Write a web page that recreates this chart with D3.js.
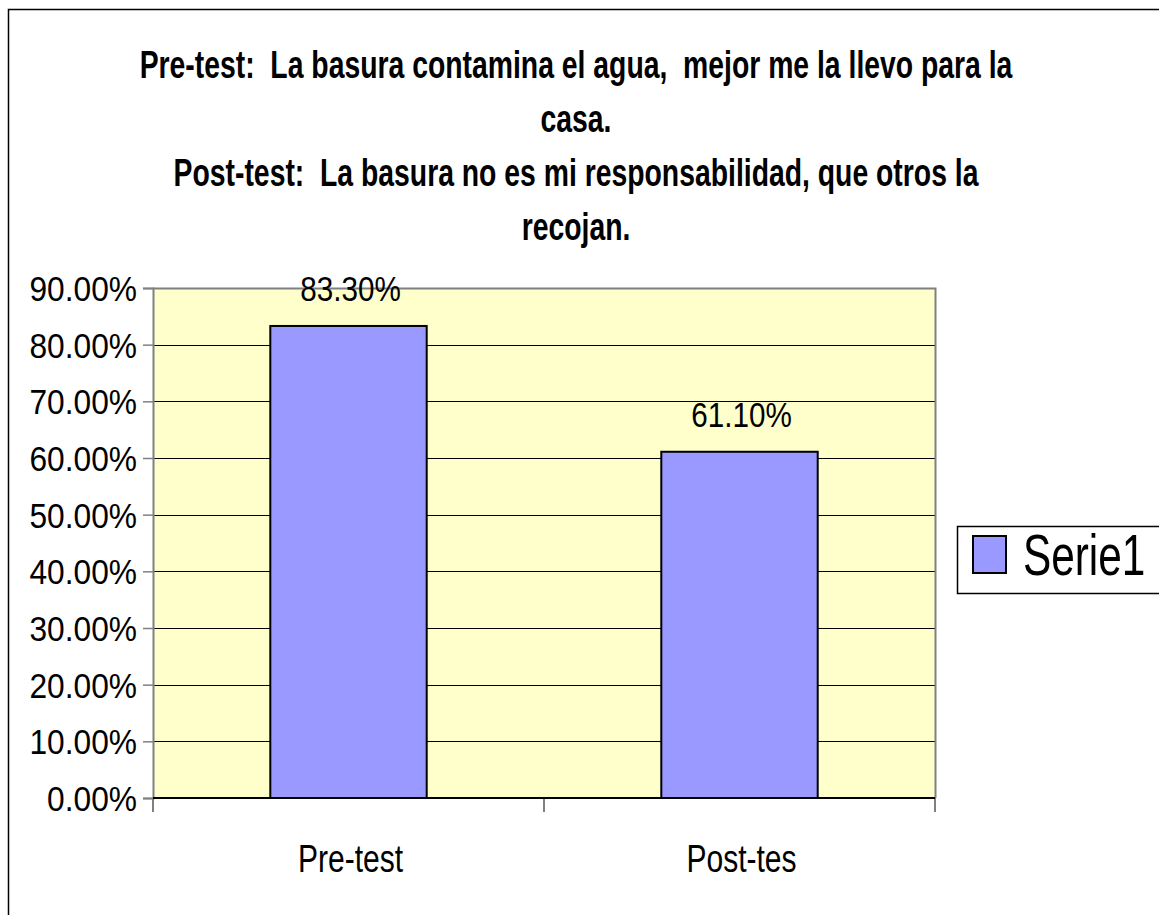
<!DOCTYPE html>
<html>
<head>
<meta charset="utf-8">
<script src="https://cdn.jsdelivr.net/npm/d3@7"></script>
<style>
  html, body { margin: 0; padding: 0; background: #fff; }
  svg text { font-family: "Liberation Sans", Arial, sans-serif; white-space: pre; }
</style>
</head>
<body>
<svg id="chart" width="1159" height="915"></svg>
<script>
const categories = ["Pre-test", "Post-tes"];
const values = [0.833, 0.611];
const valueLabels = ["83.30%", "61.10%"];
const seriesName = "Serie1";
const yTicks = [0, 0.1, 0.2, 0.3, 0.4, 0.5, 0.6, 0.7, 0.8, 0.9];
const titleLines = [
  "Pre-test:  La basura contamina el agua,  mejor me la llevo para la",
  "casa.",
  "Post-test:  La basura no es mi responsabilidad, que otros la",
  "recojan."
];

const svg = d3.select("#chart");
const W = 1159, H = 915;
const plot = { left: 153, right: 935, top: 288, bottom: 798 };

// place text at (px,py) squeezed horizontally by factor k around its anchor
function squeeze(sel, px, py, k) {
  sel.attr("x", 0).attr("y", 0)
     .attr("transform", (d, i) => `translate(${typeof px === "function" ? px(d, i) : px},${typeof py === "function" ? py(d, i) : py}) scale(${k},1)`);
}

// outer border (right and bottom edges run off the picture)
svg.append("rect")
  .attr("x", 8.5).attr("y", 9.5)
  .attr("width", W + 20).attr("height", H + 20)
  .attr("fill", "#fff").attr("stroke", "#000").attr("stroke-width", 1.5);

// title
const titleBase = [78, 132, 186, 240];
const title = svg.append("g").selectAll("text").data(titleLines).join("text")
  .attr("text-anchor", "middle")
  .attr("font-size", 38).attr("font-weight", "bold").attr("fill", "#000")
  .text(d => d);
const firstLen = title.nodes()[0].getComputedTextLength();
squeeze(title, 576, (d, i) => titleBase[i], 873 / firstLen);

const x = d3.scaleBand().domain(categories).range([plot.left, plot.right]).paddingInner(0.6).paddingOuter(0.3);
const y = d3.scaleLinear().domain([0, 0.9]).range([plot.bottom, plot.top]);

// plot area background
svg.append("rect")
  .attr("x", plot.left).attr("y", plot.top)
  .attr("width", plot.right - plot.left).attr("height", plot.bottom - plot.top)
  .attr("fill", "#FFFFCC");

// gridlines
svg.append("g").selectAll("line").data(yTicks.filter(t => t > 0 && t < 0.9)).join("line")
  .attr("x1", plot.left).attr("x2", plot.right)
  .attr("y1", d => Math.round(y(d)) + 0.5).attr("y2", d => Math.round(y(d)) + 0.5)
  .attr("stroke", "#000").attr("stroke-width", 1);

// plot border top/right
svg.append("path")
  .attr("d", `M${plot.left},${plot.top + 0.5}H${plot.right + 0.5}V${plot.bottom}`)
  .attr("fill", "none").attr("stroke", "#808080").attr("stroke-width", 2);

// y axis
const yAxis = d3.axisLeft(y).tickValues(yTicks).tickFormat(d3.format(".2%")).tickSize(10).tickPadding(6);
const gy = svg.append("g").attr("transform", `translate(${plot.left},0)`).call(yAxis);
gy.select(".domain").attr("stroke", "#808080").attr("stroke-width", 2);
gy.selectAll(".tick line").attr("stroke", "#808080").attr("stroke-width", 1.5);
const yt = gy.selectAll(".tick text")
  .attr("font-size", 34.5).attr("fill", "#000").attr("font-family", "Liberation Sans, Arial, sans-serif")
  .attr("dy", "0.36em");
squeeze(yt, -16, 0, 0.92);

// x axis ticks (category boundaries)
const boundaries = [plot.left, (plot.left + plot.right) / 2, plot.right];
svg.append("g").selectAll("line").data(boundaries).join("line")
  .attr("x1", d => d).attr("x2", d => d)
  .attr("y1", plot.bottom).attr("y2", plot.bottom + 14)
  .attr("stroke", "#808080").attr("stroke-width", 2);

// bars
svg.append("g").selectAll("rect").data(values).join("rect")
  .attr("x", (d, i) => x(categories[i]))
  .attr("y", d => y(d))
  .attr("width", x.bandwidth())
  .attr("height", d => plot.bottom - y(d))
  .attr("fill", "#9999FF").attr("stroke", "#000").attr("stroke-width", 2);

// x axis line (bottom)
svg.append("line")
  .attr("x1", plot.left).attr("x2", plot.right)
  .attr("y1", plot.bottom).attr("y2", plot.bottom)
  .attr("stroke", "#000").attr("stroke-width", 2);

// value labels
const vl = svg.append("g").selectAll("text").data(values).join("text")
  .attr("text-anchor", "middle")
  .attr("font-size", 34.5).attr("fill", "#000")
  .text((d, i) => valueLabels[i]);
squeeze(vl, (d, i) => x(categories[i]) + x.bandwidth() / 2 + 2, d => y(d) - 25, 0.86);

// category labels
const cl = svg.append("g").selectAll("text").data(categories).join("text")
  .attr("text-anchor", "middle")
  .attr("font-size", 38).attr("fill", "#000")
  .text(d => d);
squeeze(cl, d => x(d) + x.bandwidth() / 2 + 2, 872, 0.79);

// legend
const lg = svg.append("g");
lg.append("rect")
  .attr("x", 957.5).attr("y", 526.5).attr("width", 220).attr("height", 67)
  .attr("fill", "#fff").attr("stroke", "#000").attr("stroke-width", 1.5);
lg.append("rect")
  .attr("x", 973).attr("y", 536).attr("width", 33).attr("height", 37)
  .attr("fill", "#9999FF").attr("stroke", "#000").attr("stroke-width", 2);
const lt = lg.append("text")
  .attr("font-size", 58).attr("fill", "#000")
  .text(seriesName);
squeeze(lt, 1023, 575, 0.73);
</script>
</body>
</html>
